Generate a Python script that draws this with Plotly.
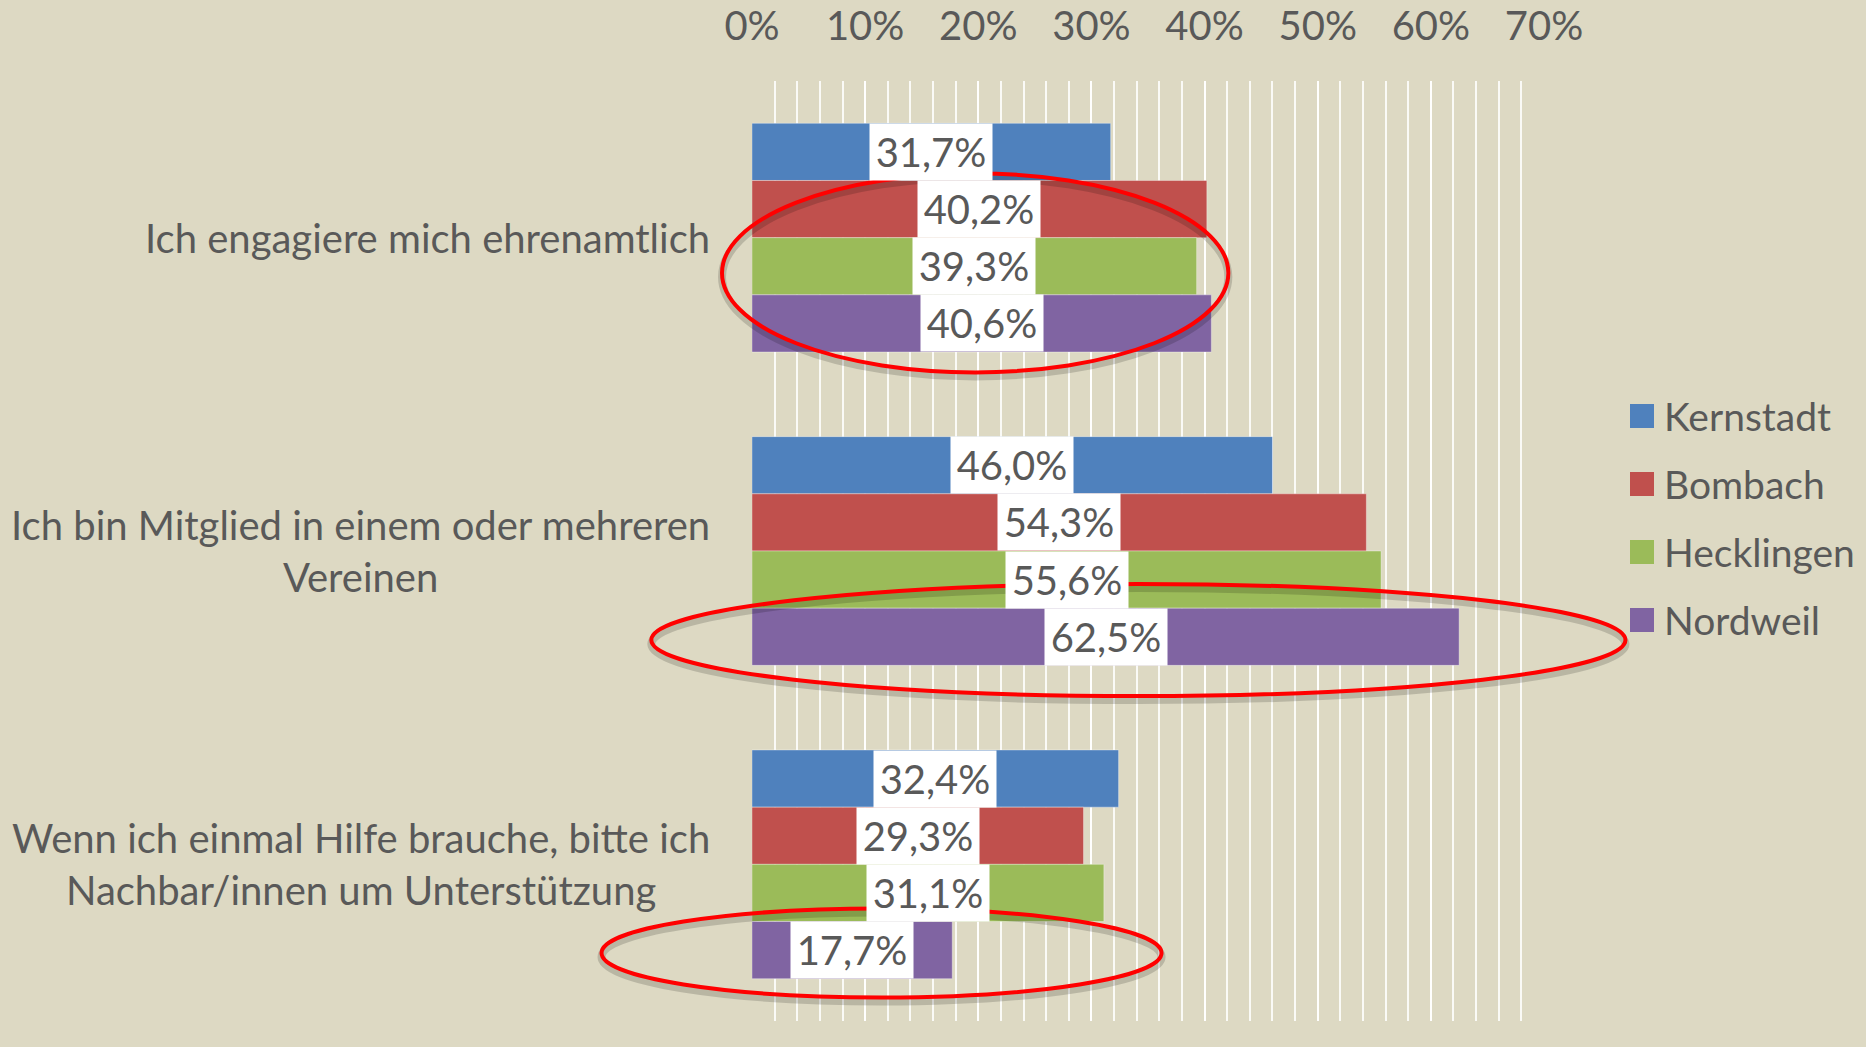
import plotly.graph_objects as go

# ---------------- data ----------------
categories = [
    "Ich engagiere mich ehrenamtlich",
    "Ich bin Mitglied in einem oder mehreren Vereinen",
    "Wenn ich einmal Hilfe brauche, bitte ich Nachbar/innen um Unterstützung",
]
category_labels = [
    "Ich engagiere mich ehrenamtlich",
    "Ich bin Mitglied in einem oder mehreren<br>Vereinen",
    "Wenn ich einmal Hilfe brauche, bitte ich<br>Nachbar/innen um Unterstützung",
]
series_names = ["Kernstadt", "Bombach", "Hecklingen", "Nordweil"]
kernstadt = [31.7, 46.0, 32.4]
bombach = [40.2, 54.3, 29.3]
hecklingen = [39.3, 55.6, 31.1]
nordweil = [40.6, 62.5, 17.7]
tick_values = [0, 10, 20, 30, 40, 50, 60, 70]
tick_labels = ["0%", "10%", "20%", "30%", "40%", "50%", "60%", "70%"]

# highlight ellipses: (x0, x1) in axis %, (y0, y1) in category units
highlights = [
    (-2.65, 42.1, -0.205, 0.43),
    (-8.9, 77.2, 1.105, 1.463),
    (-13.3, 36.2, 2.141, 2.425),
]

# ---------------- style ----------------
W, H = 1866, 1047
M_T, M_B = 81, 26
PLOT_L, PLOT_R = 752, 1544
X_MAX = 70
BG = "#DDD9C3"
TEXT = "#595959"
FONT = "Lato"
FS = 40
colors = ["#4F81BD", "#C0504D", "#9BBB59", "#8064A2"]
BARGAP = 0.27

series_values = [kernstadt, bombach, hecklingen, nordweil]

fig = go.Figure()
for name, vals, col in zip(series_names, series_values, colors):
    fig.add_trace(go.Bar(
        y=categories, x=vals, name=name, orientation="h",
        marker=dict(color=col, line=dict(color="rgba(255,255,255,0.35)", width=1)),
        showlegend=False, hoverinfo="skip",
    ))

plot_h = H - M_T - M_B
cat_px = plot_h / len(categories)
bar_px = cat_px * (1 - BARGAP) / len(series_names)


def px_x(v):
    return (PLOT_L + v / X_MAX * (PLOT_R - PLOT_L)) / W


def px_y(c):
    py = M_T + (c + 0.5) * cat_px
    return (H - M_B - py) / plot_h


annotations = []
for i, (vals, name) in enumerate(zip(series_values, series_names)):
    shift = (len(series_names) / 2 - 0.5 - i) * bar_px
    for cat, v in zip(categories, vals):
        annotations.append(dict(
            x=v / 2, y=cat, xref="x", yref="y", yshift=shift,
            text=f"{v:.1f}".replace(".", ",") + "%",
            showarrow=False, bgcolor="white", width=122, height=bar_px - 1,
            borderpad=0, font=dict(family=FONT, size=FS, color=TEXT),
            xanchor="center", yanchor="middle",
        ))

for cat, lab in zip(categories, category_labels):
    annotations.append(dict(
        x=0, y=cat, xref="x", yref="y", xshift=-40, text=lab, showarrow=False,
        xanchor="right", yanchor="middle", align="center",
        font=dict(family=FONT, size=FS, color=TEXT),
    ))

shapes = []
for (x0, x1, y0, y1) in highlights:
    shapes.append(dict(type="circle", xref="paper", yref="paper",
                       x0=px_x(x0), x1=px_x(x1),
                       y0=px_y(y0) - 4 / plot_h, y1=px_y(y1) - 4 / plot_h, layer="above",
                       line=dict(color="rgba(0,0,0,0.16)", width=8)))
    shapes.append(dict(type="circle", xref="paper", yref="paper",
                       x0=px_x(x0), x1=px_x(x1),
                       y0=px_y(y0), y1=px_y(y1), layer="above",
                       line=dict(color="#FF0000", width=4)))

# custom legend
LEG_X0, LEG_Y0, LEG_DY, SQ = 1630, 416, 68, 24
for i, (name, col) in enumerate(zip(series_names, colors)):
    cy = LEG_Y0 + i * LEG_DY
    shapes.append(dict(type="rect", xref="paper", yref="paper",
                       x0=LEG_X0 / W, x1=(LEG_X0 + SQ) / W,
                       y0=(H - M_B - (cy + SQ / 2)) / plot_h,
                       y1=(H - M_B - (cy - SQ / 2)) / plot_h,
                       fillcolor=col, line=dict(width=0)))
    annotations.append(dict(
        x=(LEG_X0 + SQ + 8) / W, y=(H - M_B - cy) / plot_h, xref="paper", yref="paper",
        text=name, showarrow=False, xanchor="left", yanchor="middle",
        font=dict(family=FONT, size=FS - 1, color=TEXT),
    ))

fig.update_layout(
    width=W, height=H,
    margin=dict(l=0, r=0, t=M_T, b=M_B, autoexpand=False),
    paper_bgcolor=BG, plot_bgcolor=BG,
    barmode="group", bargap=BARGAP, bargroupgap=0,
    font=dict(family=FONT, size=FS, color=TEXT),
    xaxis=dict(
        domain=[PLOT_L / W, PLOT_R / W], range=[0, X_MAX], side="top",
        tickvals=tick_values, ticktext=tick_labels,
        showgrid=True, gridcolor="rgba(255,255,255,0.85)", gridwidth=1.5,
        minor=dict(dtick=2, showgrid=True, gridcolor="rgba(255,255,255,0.85)", gridwidth=1.5),
        zeroline=False, showline=False, ticks="", ticklabelstandoff=32,
        tickfont=dict(family=FONT, size=FS, color=TEXT), automargin=False,
    ),
    yaxis=dict(
        autorange="reversed", showticklabels=False, showgrid=False,
        zeroline=False, showline=False, ticks="", automargin=False,
    ),
    annotations=annotations, shapes=shapes,
)

fig.write_html("out.html", config={"displayModeBar": False})

# remove the default page margin so the figure fills the window
with open("out.html", "r", encoding="utf-8") as f:
    html = f.read()
html = html.replace("<head>", "<head><style>html,body{margin:0;padding:0;background:#DDD9C3;}</style>", 1)
with open("out.html", "w", encoding="utf-8") as f:
    f.write(html)
